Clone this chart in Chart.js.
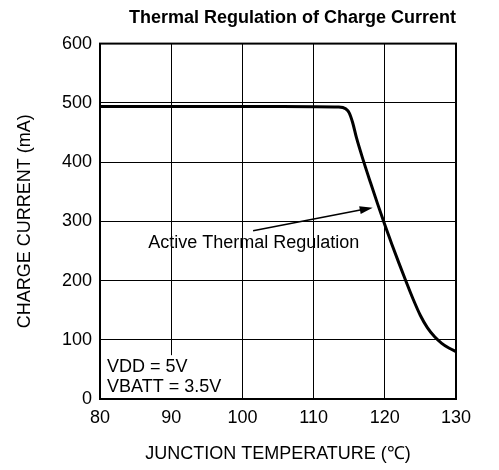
<!DOCTYPE html>
<html>
<head>
<meta charset="utf-8">
<script src="https://cdn.jsdelivr.net/npm/chart.js@4/dist/chart.umd.min.js"></script>
<style>
  html, body { margin: 0; padding: 0; background: #fff; }
</style>
</head>
<body>
<canvas id="myChart" width="499" height="470"></canvas>
<script>
// junction temperature (C) and charge current (mA)
const temps   = [80, 90, 100, 110, 113.5, 114.5, 115, 115.5, 116, 117, 118, 119, 120, 121, 122, 123, 124, 125, 126, 127, 128, 129, 130];
const current = [494, 494, 494, 493.5, 493, 490, 483, 466, 442, 402, 365, 329, 294, 261, 229, 198, 168, 141, 120, 105, 94, 86, 80];

const xTicks = [80, 90, 100, 110, 120, 130];
const yTicks = [0, 100, 200, 300, 400, 500, 600];

const noteText = 'Active Thermal Regulation';
const condLines = ['VDD = 5V', 'VBATT = 3.5V'];

const fontFamily = '"Liberation Sans", Arial, sans-serif';

// frame, arrow annotation and the conditions box, drawn through the scales
const notes = {
  id: 'notes',
  afterDatasetsDraw(chart) {
    const {ctx, chartArea, scales: {x, y}} = chart;
    ctx.save();

    // outer frame a bit heavier than the grid
    ctx.strokeStyle = '#000';
    ctx.lineWidth = 2;
    ctx.strokeRect(chartArea.left, chartArea.top, chartArea.right - chartArea.left, chartArea.bottom - chartArea.top);

    // conditions box (white, covers grid)
    const bx0 = x.getPixelForValue(80) + 1;
    const bx1 = x.getPixelForValue(97.3);
    const by0 = y.getPixelForValue(74);
    const by1 = y.getPixelForValue(0) - 1;
    ctx.fillStyle = '#fff';
    ctx.fillRect(bx0, by0, bx1 - bx0, by1 - by0);
    ctx.fillStyle = '#000';
    ctx.font = '18px ' + fontFamily;
    ctx.textAlign = 'left';
    ctx.textBaseline = 'middle';
    ctx.fillText(condLines[0], bx0 + 6, by0 + 12);
    ctx.fillText(condLines[1], bx0 + 6, by0 + 32);

    // annotation text
    ctx.textAlign = 'center';
    ctx.fillText(noteText, x.getPixelForValue(101.6), y.getPixelForValue(264));

    // arrow
    const ax0 = x.getPixelForValue(101.5), ay0 = y.getPixelForValue(284);
    const ax1 = x.getPixelForValue(118.3), ay1 = y.getPixelForValue(323);
    const ang = Math.atan2(ay1 - ay0, ax1 - ax0);
    ctx.lineWidth = 1.5;
    ctx.beginPath();
    ctx.moveTo(ax0, ay0);
    ctx.lineTo(ax1 - 10 * Math.cos(ang), ay1 - 10 * Math.sin(ang));
    ctx.stroke();
    ctx.beginPath();
    ctx.moveTo(ax1, ay1);
    ctx.lineTo(ax1 - 13 * Math.cos(ang) + 4 * Math.sin(ang), ay1 - 13 * Math.sin(ang) - 4 * Math.cos(ang));
    ctx.lineTo(ax1 - 13 * Math.cos(ang) - 4 * Math.sin(ang), ay1 - 13 * Math.sin(ang) + 4 * Math.cos(ang));
    ctx.closePath();
    ctx.fill();

    ctx.restore();
  }
};

const ctx = document.getElementById('myChart').getContext('2d');
const myChart = new Chart(ctx, {
  type: 'line',
  data: {
    datasets: [{
      data: temps.map((t, i) => ({x: t, y: current[i]})),
      borderColor: '#000',
      borderWidth: 3,
      pointRadius: 0,
      cubicInterpolationMode: 'monotone',
      fill: false
    }]
  },
  options: {
    responsive: false,
    animation: false,
    layout: {
      padding: {left: 0, right: 43, top: 0, bottom: 0}
    },
    plugins: {
      legend: { display: false },
      tooltip: { enabled: false },
      title: {
        display: true,
        text: 'Thermal Regulation of Charge Current',
        align: 'end',
        color: '#000',
        font: { family: fontFamily, size: 18, weight: 'bold' },
        padding: { top: 7, bottom: 15 }
      }
    },
    scales: {
      x: {
        type: 'linear',
        min: 80,
        max: 130,
        afterBuildTicks: s => { s.ticks = xTicks.map(v => ({value: v})); },
        afterFit: s => { s.height = 71; },
        ticks: {
          color: '#000',
          padding: 8,
          font: { family: fontFamily, size: 18 }
        },
        grid: { color: '#000', lineWidth: 1, drawTicks: false },
        border: { color: '#000', width: 2 },
        title: {
          display: true,
          text: 'JUNCTION TEMPERATURE (℃)',
          color: '#000',
          font: { family: fontFamily, size: 18 },
          padding: { top: 0, bottom: 5 }
        }
      },
      y: {
        min: 0,
        max: 600,
        afterBuildTicks: s => { s.ticks = yTicks.map(v => ({value: v})); },
        afterFit: s => { s.width = 100; },
        ticks: {
          color: '#000',
          padding: 8,
          font: { family: fontFamily, size: 18 }
        },
        grid: { color: '#000', lineWidth: 1, drawTicks: false },
        border: { color: '#000', width: 2 },
        title: {
          display: true,
          text: 'CHARGE CURRENT (mA)',
          color: '#000',
          font: { family: fontFamily, size: 18 },
          padding: { top: 14, bottom: 0 }
        }
      }
    }
  },
  plugins: [notes]
});
</script>
</body>
</html>
